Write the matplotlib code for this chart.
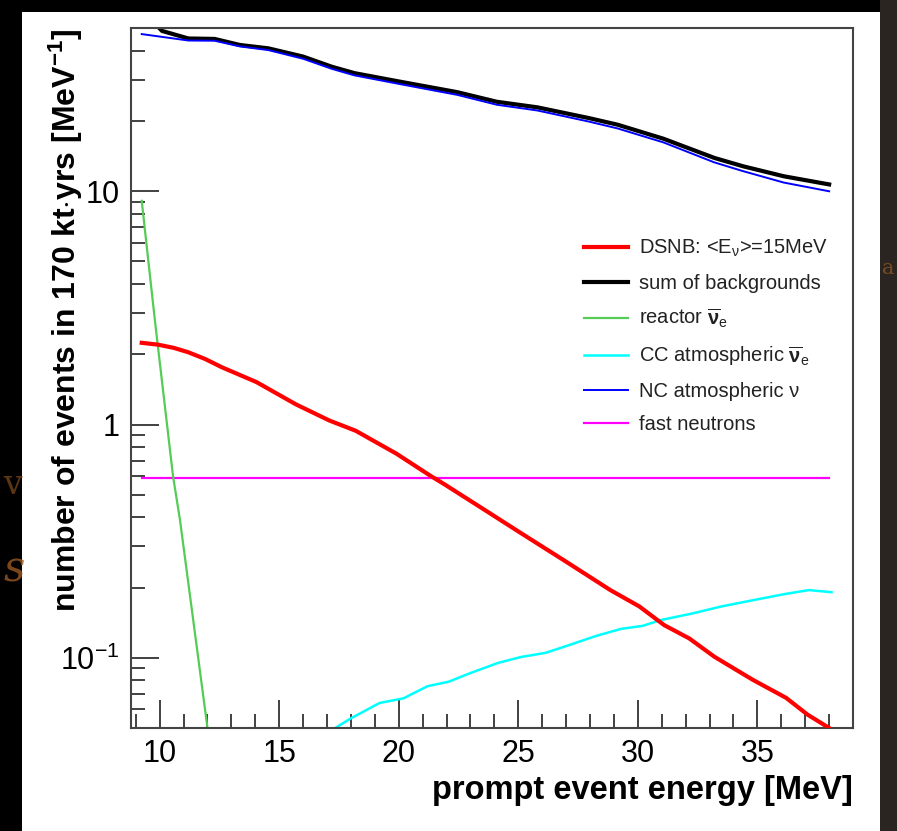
import numpy as np
import matplotlib.pyplot as plt
from matplotlib.ticker import FixedLocator, MultipleLocator, FixedFormatter
from matplotlib.patches import Rectangle

plt.rcParams['font.family'] = ['Liberation Sans', 'DejaVu Sans']
plt.rcParams['mathtext.fontset'] = 'custom'
plt.rcParams['mathtext.rm'] = 'Liberation Sans'
plt.rcParams['mathtext.it'] = 'Liberation Sans'
plt.rcParams['mathtext.bf'] = 'Liberation Sans:bold'

# data (energy in MeV, events per MeV)
e_sum = [9.25, 10.1, 11.2, 12.3, 13.35, 14.55, 16.0, 17.2, 18.15, 20.06, 22.45,
         24.1, 25.8, 27.95, 29.15, 31.07, 33.2, 34.4, 36.1, 38.0]
sum_bkg = [60, 48.7, 45.2, 45.0, 42.4, 41.0, 37.8, 34.2, 32.1, 29.5, 26.6,
           24.2, 22.9, 20.6, 19.3, 16.8, 13.9, 12.8, 11.6, 10.7]

e_nc = [9.25, 11.2, 12.3, 13.35, 14.55, 16.0, 17.2, 18.15, 20.06, 22.45,
        24.1, 25.8, 27.95, 29.15, 31.07, 33.2, 34.4, 36.1, 38.0]
nc_atm = [47.2, 44.3, 44.2, 41.8, 40.3, 37.0, 33.5, 31.4, 28.8, 25.9,
          23.5, 22.2, 19.9, 18.6, 16.2, 13.3, 12.2, 10.9, 10.0]

e_dsnb = [9.25, 9.93, 10.6, 11.2, 11.9, 12.6, 14.05, 15.7, 17.1, 18.2, 19.9,
          21.3, 21.9, 23.4, 25.0, 25.56, 26.9, 28.85, 30.06, 31.1, 32.15,
          33.2, 34.8, 36.2, 37.1, 38.0]
dsnb = [2.24, 2.20, 2.13, 2.04, 1.91, 1.76, 1.52, 1.22, 1.04, 0.94, 0.75,
        0.605, 0.555, 0.443, 0.348, 0.32, 0.262, 0.195, 0.166, 0.138, 0.121,
        0.101, 0.0805, 0.0673, 0.057, 0.050]

e_reactor = [9.25, 9.8, 10.56, 10.85, 12.0]
reactor = [9.1, 2.8, 0.6, 0.39, 0.05]

e_cc = [17.35, 18.0, 19.2, 20.2, 21.2, 22.1, 23.0, 24.15, 25.1, 26.15, 27.2,
        28.25, 29.3, 30.2, 30.95, 32.3, 33.5, 35.0, 36.2, 37.15, 38.1]
cc_atm = [0.05, 0.055, 0.064, 0.067, 0.0755, 0.079, 0.086, 0.095, 0.1007,
          0.105, 0.114, 0.124, 0.133, 0.137, 0.145, 0.155, 0.166, 0.178,
          0.188, 0.195, 0.191]

e_fast = [9.25, 38.0]
fast_n = [0.59, 0.59]

fig = plt.figure(figsize=(8.97, 8.31), dpi=100)
fig.patch.set_facecolor('black')
# white slide panel behind the plot
fig.patches.append(Rectangle((0.0245, 0.0), 0.957, 0.986, transform=fig.transFigure,
                             facecolor='white', edgecolor='none', zorder=-2))
fig.patches.append(Rectangle((0.9815, 0.0), 0.02, 1.0, transform=fig.transFigure,
                             facecolor='#2b2521', edgecolor='none', zorder=-2))

ax = fig.add_axes([0.146, 0.124, 0.805, 0.842])
ax.set_zorder(2)
ax.set_facecolor('white')

ax.plot(e_fast, fast_n, color='#ff00ff', lw=1.6, label='fast neutrons', zorder=2)
ax.plot(e_cc, cc_atm, color='#00ffff', lw=1.8, label=r'CC atmospheric $\mathbf{\overline{\nu}}_e$', zorder=2)
ax.plot(e_reactor, reactor, color='#55cc55', lw=1.6, label=r'reactor $\mathbf{\overline{\nu}}_e$', zorder=2)
ax.plot(e_nc, nc_atm, color='#0000ff', lw=1.4, label='NC atmospheric ν', zorder=3)
ax.plot(e_sum, sum_bkg, color='black', lw=3.0, label='sum of backgrounds', zorder=2.5)
ax.plot(e_dsnb, dsnb, color='#ff0000', lw=3.0, label=r'DSNB: <E$_\nu$>=15MeV', zorder=4)

ax.set_yscale('log')
ax.set_xlim(8.8, 39.0)
ax.set_ylim(0.05, 50)

ax.xaxis.set_major_locator(FixedLocator([10, 15, 20, 25, 30, 35]))
ax.xaxis.set_minor_locator(MultipleLocator(1))
ax.yaxis.set_major_locator(FixedLocator([0.1, 1, 10]))
ax.yaxis.set_major_formatter(FixedFormatter(['10$^{\\mathrm{-1}}$', '1', '10']))
minors = [m * d for d in [0.01, 0.1, 1, 10] for m in range(2, 10)]
ax.yaxis.set_minor_locator(FixedLocator(minors))
ax.yaxis.set_minor_formatter(FixedFormatter([''] * len(minors)))

ax.tick_params(axis='both', which='major', direction='in', length=20, width=1.3,
               color='#333333', labelsize=22, pad=8)
ax.tick_params(axis='both', which='minor', direction='in', length=10, width=1.3,
               color='#333333')
ax.tick_params(top=False, right=False, which='both')
for sp in ax.spines.values():
    sp.set_color('#444444')
    sp.set_linewidth(1.5)

ax.set_xlabel('prompt event energy [MeV]', fontsize=23.5, fontweight='bold',
              loc='right', labelpad=4)
ax.set_ylabel(r'number of events in 170 kt$\cdot$yrs [MeV$^{\mathbf{-1}}$]',
              fontsize=23, fontweight='bold', loc='top')
ax.yaxis.set_label_coords(-0.064, 1.0)

handles, labels = ax.get_legend_handles_labels()
order = [5, 4, 2, 1, 3, 0]
leg = ax.legend([handles[i] for i in order], [labels[i] for i in order],
                loc='upper left', bbox_to_anchor=(0.627, 0.70), frameon=False,
                fontsize=14.5, handlelength=2.2, handletextpad=0.55,
                labelspacing=0.70, borderaxespad=0, borderpad=0)
for t in leg.get_texts():
    t.set_color('#222222')

# faint slide remnants at the edges
fig.text(0.004, 0.3, 's', color='#9a5a24', fontsize=30, family='DejaVu Serif',
         style='italic', alpha=0.8, zorder=-1)
fig.text(0.004, 0.405, 'v', color='#9a5a24', fontsize=24, family='DejaVu Serif',
         alpha=0.6, zorder=-1)
fig.text(0.983, 0.67, 'a', color='#9a5a24', fontsize=15, family='DejaVu Serif',
         alpha=0.7, zorder=-1)

fig.savefig('out.png', dpi=100, facecolor=fig.get_facecolor())
